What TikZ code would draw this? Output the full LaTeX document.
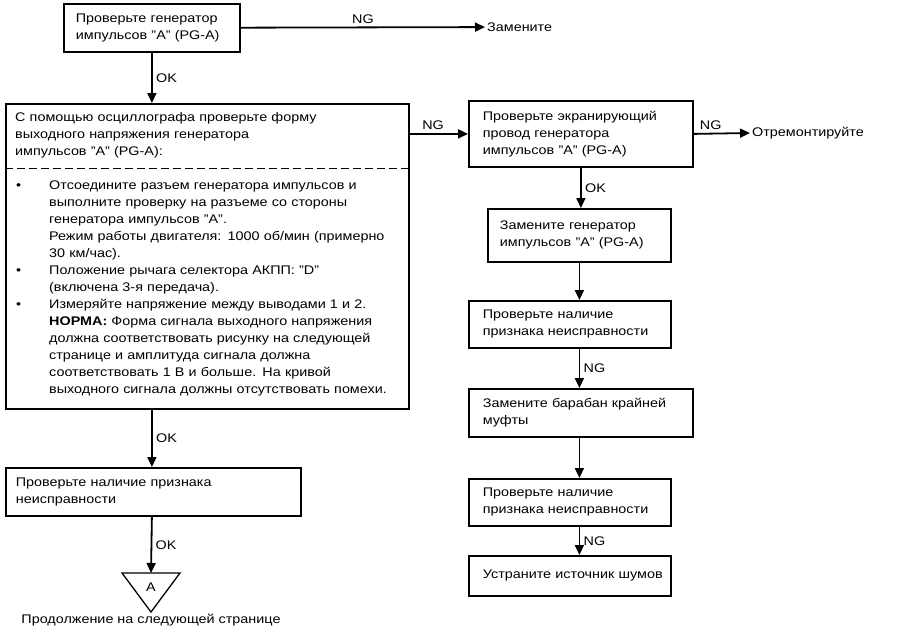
\documentclass[tikz,border=0pt]{standalone}
\usepackage{fontspec}
\setmainfont{Liberation Sans}[FakeStretch=1.15]
\usetikzlibrary{arrows.meta,positioning,calc}

\begin{document}
\begin{tikzpicture}[x=1pt,y=-1pt,
  every node/.style={font=\fontsize{12.5}{17}\selectfont},
  box/.style={draw,line width=1.8pt,anchor=north west,align=left,inner xsep=12pt,inner ysep=0pt},
  arr/.style={line width=1.8pt,-{Triangle[length=10pt,width=9pt]}}]
\useasboundingbox (0,0) rectangle (900,632);

% left column
\node[box,minimum width=176pt,minimum height=48pt,text width=152pt] (pg) at (63,3) {Проверьте генератор\\импульсов "A" (PG-A)};
\node[anchor=west,inner sep=2pt] (zam) at (485,27) {Замените};
\draw[arr] (pg) -- node[above]{NG} (zam);

\node[draw,line width=1.8pt,anchor=north west,minimum width=403pt,minimum height=305pt] (osc) at (5,103) {};
\node[anchor=north west,align=left,text width=383pt,minimum height=65pt,inner xsep=10pt,inner ysep=0pt] (oscA) at (osc.north west) {С помощью осциллографа проверьте форму\\выходного напряжения генератора\\импульсов "A" (PG-A):};
\node[anchor=north west,align=left,text width=390pt,minimum height=240pt,inner xsep=10pt,inner ysep=0pt] (oscB) at (oscA.south west) {\parskip=0pt\leftskip=34pt
\leavevmode\llap{\textbullet\hspace{28pt}}Отсоедините разъем генератора импульсов и\\выполните проверку на разъеме со стороны\\генератора импульсов "A".\\Режим работы двигателя: 1000 об/мин (примерно\\30 км/час).\par
\leavevmode\llap{\textbullet\hspace{28pt}}Положение рычага селектора АКПП: "D"\\(включена 3-я передача).\par
\leavevmode\llap{\textbullet\hspace{28pt}}Измеряйте напряжение между выводами 1 и 2.\\\textbf{НОРМА:} Форма сигнала выходного напряжения\\должна соответствовать рисунку на следующей\\странице и амплитуда сигнала должна\\соответствовать 1 В и больше. На кривой\\выходного сигнала должны отсутствовать помехи.\par};
\draw[line width=1.5pt,dash pattern=on 8pt off 4pt] (osc.west |- oscA.south) -- (osc.east |- oscA.south);
\draw[arr] (pg.south) -- node[right]{OK} (pg.south |- osc.north);

\node[box,minimum width=295pt,minimum height=48pt,text width=275pt,inner xsep=10pt] (chk3) at (5,467) {Проверьте наличие признака\\неисправности};
\draw[arr] (osc.south -| pg.south) -- node[right]{OK} (chk3.north -| pg.south);

\coordinate (triA) at (151,573);
\draw[line width=1.3pt] ($(triA)+(-29,0)$) -- ($(triA)+(29,0)$) -- ($(triA)+(0,39)$) -- cycle;
\node (contA) at ($(triA)+(0,14)$) {A};
\draw[arr] (chk3.south -| pg.south) -- node[right]{OK} (triA);
\node (cont) at (151,620) {Продолжение на следующей странице};

% right column
\node[box,minimum width=224pt,minimum height=66pt,text width=196pt,inner xsep=14pt] (shield) at (468,100) {Проверьте экранирующий\\провод генератора\\импульсов "A" (PG-A)};
\draw[arr] (osc.east |- shield.west) -- node[above,pos=0.4]{NG} (shield.west);
\node[anchor=west,inner sep=2pt] (rep) at (750,133) {Отремонтируйте};
\draw[arr] (shield.east) -- node[above,pos=0.3]{NG} (rep.west);

\node[box,minimum width=183pt,minimum height=53pt,text width=159pt] (newpg) at (487,208) {Замените генератор\\импульсов "A" (PG-A)};
\draw[arr] (shield.south) -- node[right]{OK} (shield.south |- newpg.north);

\node[box,minimum width=202pt,minimum height=47pt,text width=174pt,inner xsep=14pt] (chk1) at (468,300) {Проверьте наличие\\признака неисправности};
\draw[arr] (newpg.south) -- (newpg.south |- chk1.north);

\node[box,minimum width=224pt,minimum height=48pt,text width=196pt,inner xsep=14pt] (drum) at (468,388) {Замените барабан крайней\\муфты};
\draw[arr] (chk1.south -| newpg.south) -- node[right]{NG} (drum.north -| newpg.south);

\node[box,minimum width=202pt,minimum height=47pt,text width=174pt,inner xsep=14pt] (chk2) at (468,478) {Проверьте наличие\\признака неисправности};
\draw[arr] (drum.south -| newpg.south) -- (chk2.north -| newpg.south);

\node[box,minimum width=202pt,minimum height=40pt,text width=174pt,inner xsep=14pt] (noise) at (468,555) {\mbox{Устраните источник шумов}};
\draw[arr] (chk2.south -| newpg.south) -- node[right]{NG} (noise.north -| newpg.south);
\end{tikzpicture}
\end{document}
